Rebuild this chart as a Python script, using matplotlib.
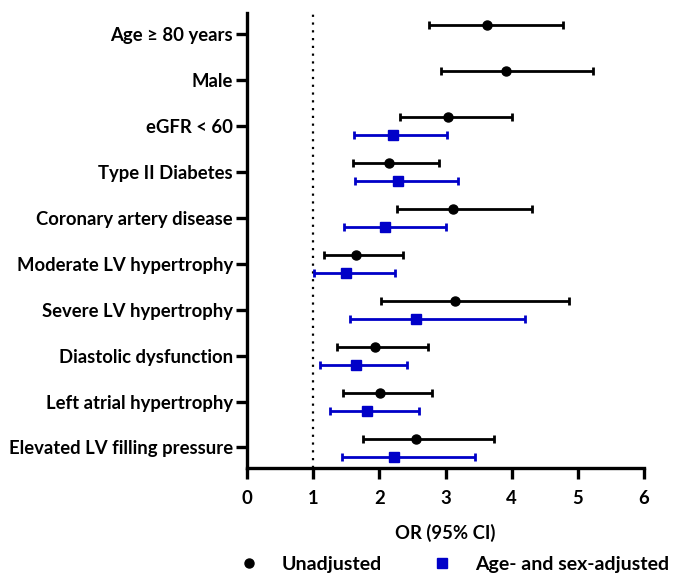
import matplotlib
matplotlib.use("Agg")
import matplotlib.pyplot as plt
from matplotlib.lines import Line2D
import numpy as np

plt.rcParams['font.family'] = ['Lato', 'DejaVu Sans']

# data
labels = ["Age \u2265 80 years", "Male", "eGFR < 60", "Type II Diabetes",
          "Coronary artery disease", "Moderate LV hypertrophy",
          "Severe LV hypertrophy", "Diastolic dysfunction",
          "Left atrial hypertrophy", "Elevated LV filling pressure"]

unadj_or = [3.62, 3.91, 3.04, 2.15, 3.12, 1.65, 3.14, 1.93, 2.01, 2.55]
unadj_lo = [2.75, 2.93, 2.31, 1.60, 2.26, 1.16, 2.03, 1.36, 1.45, 1.75]
unadj_hi = [4.77, 5.23, 4.00, 2.90, 4.30, 2.35, 4.86, 2.73, 2.80, 3.73]

# age- and sex-adjusted (not given for first two rows)
adj_or = [np.nan, np.nan, 2.21, 2.28, 2.09, 1.50, 2.56, 1.64, 1.81, 2.22]
adj_lo = [np.nan, np.nan, 1.62, 1.63, 1.46, 1.01, 1.56, 1.11, 1.25, 1.43]
adj_hi = [np.nan, np.nan, 3.02, 3.19, 3.00, 2.24, 4.20, 2.42, 2.60, 3.45]

blue = "#0000c8"

fig = plt.figure(figsize=(6.73, 5.78), dpi=100)
ax = fig.add_axes([0.367, 0.190, 0.590, 0.7875])

y = np.arange(len(labels))
u_or = np.array(unadj_or)
a_or = np.array(adj_or)

ax.errorbar(u_or, y - 0.18,
            xerr=[u_or - np.array(unadj_lo), np.array(unadj_hi) - u_or],
            fmt='o', color='black', ms=6.5, lw=2, capsize=3, capthick=2)
ax.errorbar(a_or, y + 0.2,
            xerr=[a_or - np.array(adj_lo), np.array(adj_hi) - a_or],
            fmt='s', color=blue, ms=6.5, lw=2, capsize=3, capthick=2)

ax.axvline(1, color='black', ls=(0, (1, 2.5)), lw=1.6, zorder=0)

ax.set_xlim(0, 6)
ax.set_ylim(len(labels) - 0.55, -0.45)
ax.set_xticks(range(7))
ax.set_yticks(y)
ax.set_yticklabels(labels)

for s in ['top', 'right']:
    ax.spines[s].set_visible(False)
for s in ['left', 'bottom']:
    ax.spines[s].set_linewidth(2.4)
ax.tick_params(width=2.4, length=8, labelsize=13.3)
ax.tick_params(axis='y', pad=2)
ax.tick_params(axis='x', pad=8)
for t in ax.get_xticklabels() + ax.get_yticklabels():
    t.set_fontweight('bold')

ax.set_xlabel("OR (95% CI)", fontsize=13.3, fontweight='bold', labelpad=12)

handles = [Line2D([], [], marker='o', color='black', ls='none', ms=6.5),
           Line2D([], [], marker='s', color=blue, ls='none', ms=6.5)]
fig.legend(handles, ["Unadjusted", "Age- and sex-adjusted"],
           loc='center left', bbox_to_anchor=(0.355, 0.024), ncol=2,
           frameon=False, handlelength=1, handletextpad=1.2,
           columnspacing=2.6, borderaxespad=0, borderpad=0,
           prop={'weight': 'bold', 'size': 14})

fig.savefig("out.png", dpi=100)
